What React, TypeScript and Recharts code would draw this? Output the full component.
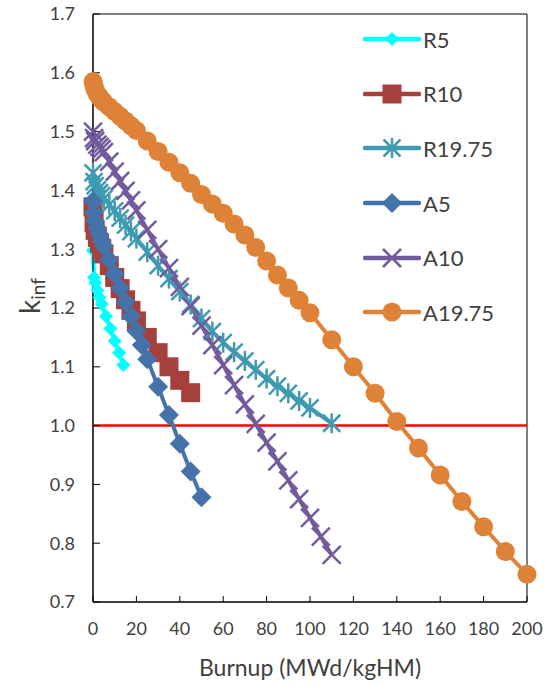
import React from 'react';
import { LineChart, Line, XAxis, YAxis, ReferenceLine, ReferenceArea } from 'recharts';

const xTicks = [0, 20, 40, 60, 80, 100, 120, 140, 160, 180, 200];
const yTicks = [0.7, 0.8, 0.9, 1.0, 1.1, 1.2, 1.3, 1.4, 1.5, 1.6, 1.7];

const r5Burnup = [0, 0.5, 1, 2, 3, 4, 6, 8, 10, 12, 14];
const r5Kinf = [1.298, 1.252, 1.243, 1.23, 1.218, 1.207, 1.186, 1.165, 1.144, 1.124, 1.103];

const r10Burnup = [0, 0.5, 1, 2, 3, 4, 5, 7.5, 10, 12.5, 15, 17.5, 20, 25, 30, 35, 40, 45];
const r10Kinf = [1.372, 1.345, 1.332, 1.32, 1.31, 1.301, 1.292, 1.272, 1.252, 1.233, 1.214, 1.196, 1.178, 1.15, 1.124, 1.1, 1.077, 1.056];

const r1975Burnup = [0, 0.5, 1, 2, 3, 4, 5, 7.5, 10, 12.5, 15, 17.5, 20, 25, 30, 35, 40, 45, 50, 55, 60, 65, 70, 75, 80, 85, 90, 95, 100, 110];
const r1975Kinf = [1.43, 1.415, 1.408, 1.401, 1.396, 1.391, 1.386, 1.376, 1.365, 1.353, 1.341, 1.33, 1.318, 1.295, 1.272, 1.25, 1.228, 1.206, 1.182, 1.16, 1.141, 1.125, 1.11, 1.095, 1.08, 1.067, 1.055, 1.042, 1.03, 1.004];

const a5Burnup = [0, 0.5, 1, 2, 3, 4, 5, 7.5, 10, 12.5, 15, 17.5, 20, 22.5, 25, 30, 35, 40, 45, 50];
const a5Kinf = [1.382, 1.362, 1.348, 1.336, 1.325, 1.315, 1.305, 1.282, 1.258, 1.234, 1.21, 1.186, 1.161, 1.137, 1.113, 1.066, 1.018, 0.969, 0.922, 0.878];

const a10Burnup = [0, 0.5, 1, 2, 3, 4, 5, 7.5, 10, 12.5, 15, 17.5, 20, 25, 30, 35, 40, 45, 50, 55, 60, 65, 70, 75, 80, 85, 90, 95, 100, 105, 110];
const a10Kinf = [1.5, 1.489, 1.484, 1.478, 1.474, 1.47, 1.465, 1.449, 1.432, 1.416, 1.399, 1.383, 1.366, 1.333, 1.3, 1.268, 1.236, 1.203, 1.17, 1.137, 1.103, 1.069, 1.036, 1.003, 0.971, 0.939, 0.907, 0.875, 0.843, 0.811, 0.78];

const a1975Burnup = [0, 0.5, 1, 2, 3, 4, 5, 7.5, 10, 12.5, 15, 17.5, 20, 25, 30, 35, 40, 45, 50, 55, 60, 65, 70, 75, 80, 85, 90, 95, 100, 110, 120, 130, 140, 150, 160, 170, 180, 190, 200];
const a1975Kinf = [1.585, 1.577, 1.571, 1.564, 1.559, 1.554, 1.55, 1.542, 1.534, 1.526, 1.518, 1.51, 1.502, 1.484, 1.466, 1.448, 1.43, 1.412, 1.393, 1.377, 1.361, 1.343, 1.324, 1.303, 1.28, 1.256, 1.234, 1.213, 1.192, 1.146, 1.1, 1.055, 1.007, 0.962, 0.916, 0.871, 0.828, 0.786, 0.747];

type Pt = { x: number; y: number };
const zip = (xs: number[], ys: number[]): Pt[] => xs.map((x, i) => ({ x, y: ys[i] }));

type MarkerKind = 'smallDiamond' | 'square' | 'asterisk' | 'diamond' | 'cross' | 'circle';

const seriesList: { name: string; color: string; marker: MarkerKind; data: Pt[] }[] = [
  { name: 'R5', color: '#00FFFF', marker: 'smallDiamond', data: zip(r5Burnup, r5Kinf) },
  { name: 'R10', color: '#A5403D', marker: 'square', data: zip(r10Burnup, r10Kinf) },
  { name: 'R19.75', color: '#3E9AB0', marker: 'asterisk', data: zip(r1975Burnup, r1975Kinf) },
  { name: 'A5', color: '#4672AA', marker: 'diamond', data: zip(a5Burnup, a5Kinf) },
  { name: 'A10', color: '#735A9D', marker: 'cross', data: zip(a10Burnup, a10Kinf) },
  { name: 'A19.75', color: '#DE8238', marker: 'circle', data: zip(a1975Burnup, a1975Kinf) },
];

const Marker = ({ kind, cx, cy, color }: { kind: MarkerKind; cx: number; cy: number; color: string }) => {
  switch (kind) {
    case 'smallDiamond':
      return <path d={`M${cx},${cy - 7}L${cx + 7},${cy}L${cx},${cy + 7}L${cx - 7},${cy}Z`} fill={color} />;
    case 'diamond':
      return <path d={`M${cx},${cy - 10}L${cx + 10},${cy}L${cx},${cy + 10}L${cx - 10},${cy}Z`} fill={color} />;
    case 'square':
      return <rect x={cx - 9.5} y={cy - 9.5} width={19} height={19} fill={color} />;
    case 'circle':
      return <circle cx={cx} cy={cy} r={9.5} fill={color} />;
    case 'cross':
      return (
        <g stroke={color} strokeWidth={2.5}>
          <line x1={cx - 9} y1={cy - 9} x2={cx + 9} y2={cy + 9} />
          <line x1={cx - 9} y1={cy + 9} x2={cx + 9} y2={cy - 9} />
        </g>
      );
    default:
      return (
        <g stroke={color} strokeWidth={2.5}>
          <line x1={cx - 8.5} y1={cy - 8.5} x2={cx + 8.5} y2={cy + 8.5} />
          <line x1={cx - 8.5} y1={cy + 8.5} x2={cx + 8.5} y2={cy - 8.5} />
          <line x1={cx} y1={cy - 10} x2={cx} y2={cy + 10} />
        </g>
      );
  }
};

const YLabel = () => (
  <text x={40} y={296} transform="rotate(-90 40 296)" textAnchor="middle" fill="#404040" fontFamily="Lato">
    <tspan fontSize={28}>k</tspan>
    <tspan fontSize={19} dy={5}>inf</tspan>
  </text>
);

export default function App() {
  return (
    <div style={{ position: 'absolute', left: 0, top: 0, width: 547, height: 690, background: '#fff' }}>
      <LineChart width={547} height={690} margin={{ top: 14, right: 20, left: 0, bottom: 0 }} style={{ fontFamily: 'Lato' }}>
        <XAxis
          type="number"
          dataKey="x"
          domain={[0, 200]}
          ticks={xTicks}
          interval={0}
          height={88}
          tickSize={-6}
          tickMargin={26}
          axisLine={{ stroke: '#000' }}
          tickLine={{ stroke: '#000' }}
          tick={{ fill: '#404040', fontSize: 18 }}
          label={{ value: 'Burnup (MWd/kgHM)', position: 'insideBottom', offset: 14, fill: '#404040', fontSize: 23 }}
        />
        <YAxis
          type="number"
          dataKey="y"
          domain={[0.7, 1.7]}
          ticks={yTicks}
          interval={0}
          width={93}
          tickSize={-7}
          tickMargin={25}
          tickFormatter={(v: number) => v.toFixed(1)}
          axisLine={{ stroke: '#000' }}
          tickLine={{ stroke: '#000' }}
          tick={{ fill: '#404040', fontSize: 18 }}
          label={<YLabel />}
        />
        <ReferenceArea x1={0} x2={200} y1={0.7} y2={1.7} fill="none" stroke="#000" strokeWidth={1} />
        <ReferenceLine y={1} stroke="#FF0000" strokeWidth={2.5} />
        {seriesList.map((s) => (
          <Line
            key={s.name}
            data={s.data}
            dataKey="y"
            type="linear"
            stroke={s.color}
            strokeWidth={4}
            isAnimationActive={false}
            dot={(p: any) => <Marker key={`${s.name}-${p.index}`} kind={s.marker} cx={p.cx} cy={p.cy} color={s.color} />}
            activeDot={false}
          />
        ))}
      </LineChart>
      <div style={{ position: 'absolute', left: 363, top: 12, fontFamily: 'Lato', fontSize: 22, color: '#404040' }}>
        {seriesList.map((s) => (
          <div key={s.name} style={{ display: 'flex', alignItems: 'center', height: 54.6 }}>
            <svg width={58} height={24}>
              <line x1={2} y1={12} x2={56} y2={12} stroke={s.color} strokeWidth={4.5} strokeLinecap="round" />
              <Marker kind={s.marker} cx={29} cy={12} color={s.color} />
            </svg>
            <span style={{ marginLeft: 2 }}>{s.name}</span>
          </div>
        ))}
      </div>
    </div>
  );
}
